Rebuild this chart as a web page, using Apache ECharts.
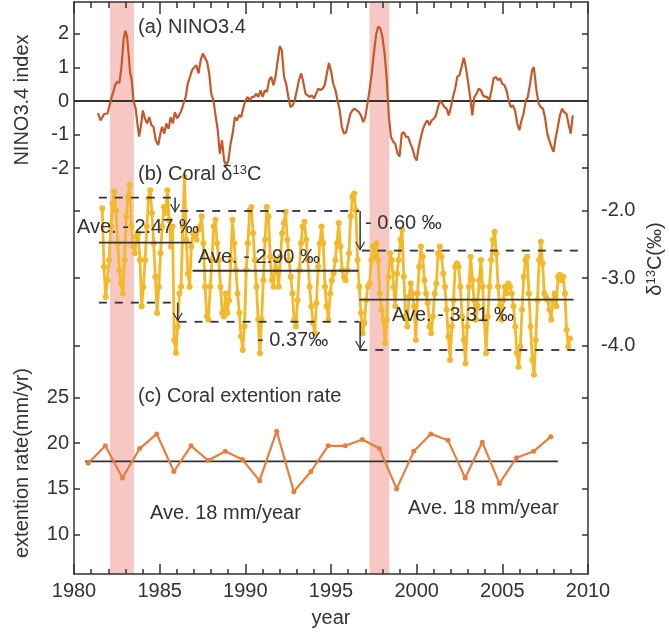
<!DOCTYPE html>
<html><head><meta charset="utf-8">
<script src="https://cdn.jsdelivr.net/npm/echarts@6/dist/echarts.min.js"></script>
<style>html,body{margin:0;padding:0;background:#fff}#c{width:669px;height:635px}</style>
</head><body><div id="c"></div>
<script>
// ---------- data ----------
const ninoYears = [
1981.40,1981.55,1981.77,1981.95,1982.10,1982.20,1982.30,1982.40,1982.52,1982.65,
1982.77,1982.90,1983.00,1983.10,1983.20,1983.27,1983.37,1983.47,1983.60,1983.70,
1983.80,1983.90,1984.02,1984.14,1984.27,1984.39,1984.52,1984.64,1984.77,1984.92,
1985.04,1985.14,1985.27,1985.39,1985.52,1985.64,1985.77,1985.89,1986.02,1986.14,
1986.27,1986.39,1986.52,1986.64,1986.77,1986.89,1987.02,1987.14,1987.27,1987.39,
1987.52,1987.62,1987.77,1987.89,1988.01,1988.14,1988.26,1988.39,1988.51,1988.64,
1988.76,1988.89,1989.01,1989.14,1989.26,1989.39,1989.51,1989.64,1989.76,1989.89,
1990.01,1990.14,1990.26,1990.39,1990.51,1990.64,1990.76,1990.89,1991.01,1991.14,
1991.26,1991.39,1991.51,1991.64,1991.76,1991.89,1992.01,1992.13,1992.26,1992.38,
1992.51,1992.63,1992.76,1992.88,1993.01,1993.13,1993.26,1993.38,1993.51,1993.63,
1993.76,1993.88,1994.01,1994.13,1994.26,1994.38,1994.51,1994.63,1994.76,1994.88,
1995.01,1995.13,1995.26,1995.38,1995.51,1995.63,1995.76,1995.88,1996.00,1996.13,
1996.25,1996.38,1996.50,1996.63,1996.75,1996.88,1997.00,1997.13,1997.25,1997.38,
1997.50,1997.63,1997.75,1997.88,1998.00,1998.13,1998.25,1998.38,1998.50,1998.63,
1998.75,1998.88,1999.00,1999.13,1999.25,1999.38,1999.50,1999.63,1999.75,1999.88,
2000.00,2000.12,2000.25,2000.37,2000.50,2000.62,2000.75,2000.87,2001.00,2001.12,
2001.25,2001.37,2001.50,2001.62,2001.75,2001.87,2002.00,2002.12,2002.25,2002.37,
2002.50,2002.62,2002.75,2002.87,2003.00,2003.12,2003.25,2003.37,2003.50,2003.62,
2003.75,2003.87,2004.00,2004.12,2004.24,2004.37,2004.49,2004.62,2004.74,2004.87,
2004.99,2005.12,2005.24,2005.37,2005.49,2005.62,2005.74,2005.87,2005.99,2006.12,
2006.24,2006.37,2006.49,2006.62,2006.74,2006.84,2006.99,2007.12,2007.24,2007.37,
2007.49,2007.62,2007.74,2007.87,2007.99,2008.12,2008.24,2008.36,2008.49,2008.61,
2008.74,2008.86,2008.99,2009.11];
const ninoValues = [
-0.36,-0.58,-0.38,-0.38,-0.08,0.12,0.27,0.47,0.57,0.54,
1.01,1.86,2.09,1.91,1.31,0.87,0.62,0.02,-0.23,-0.67,
-1.06,-0.77,-0.28,-0.52,-0.67,-0.48,-0.72,-0.77,-1.16,-1.31,
-0.97,-0.77,-0.97,-0.67,-0.83,-0.48,-0.67,-0.33,-0.52,-0.42,
-0.28,-0.08,0.12,0.52,0.72,0.92,1.01,1.06,0.82,1.21,
1.41,1.43,1.16,0.82,0.22,0.02,-0.42,-0.87,-1.57,-1.17,
-1.77,-1.92,-1.77,-1.27,-0.97,-0.48,-0.58,-0.42,-0.48,-0.18,
0.02,0.12,0.02,0.12,0.12,0.22,0.12,0.32,0.12,0.32,
0.27,0.62,0.72,0.47,0.72,1.21,1.63,1.51,0.72,0.52,
0.12,-0.18,-0.13,0.02,0.32,0.62,0.82,0.57,0.22,0.17,
0.12,0.17,0.07,0.22,0.37,0.32,0.37,0.47,0.82,1.13,
0.87,0.52,0.32,0.02,-0.28,-0.77,-0.97,-0.93,-0.67,-0.38,
-0.28,-0.23,-0.28,-0.33,-0.43,-0.63,-0.48,-0.08,0.32,0.82,
1.41,1.97,2.21,2.16,1.91,1.41,0.67,-0.48,-1.07,-1.21,
-1.27,-1.56,-1.66,-0.97,-0.93,-1.07,-1.07,-1.26,-1.41,-1.66,
-1.77,-1.37,-1.07,-0.83,-0.67,-0.58,-0.72,-0.58,-0.53,-0.43,
-0.18,0.02,-0.08,-0.18,-0.23,-0.43,-0.18,0.12,0.37,0.72,
0.77,1.01,1.29,1.01,0.57,0.12,-0.43,0.12,0.22,0.37,
0.32,0.17,0.12,0.12,0.02,0.32,0.67,0.72,0.62,0.67,
0.52,0.47,0.32,0.02,-0.18,-0.13,-0.28,-0.67,-0.87,-0.58,
-0.38,0.02,0.12,0.52,0.92,1.01,0.32,-0.08,-0.18,-0.23,
-0.48,-0.97,-1.17,-1.37,-1.51,-1.07,-0.77,-0.43,-0.23,-0.33,
-0.38,-0.67,-0.97,-0.43];

const coralYears = [
1981.65,1981.75,1981.85,1981.95,
1982.05,1982.15,1982.25,1982.35,1982.45,1982.55,1982.65,1982.75,1982.85,1982.95,
1983.05,1983.15,1983.25,1983.35,1983.45,1983.55,1983.65,1983.75,1983.85,1983.95,
1984.05,1984.15,1984.25,1984.35,1984.45,1984.55,1984.65,1984.75,1984.85,1984.95,
1985.05,1985.15,1985.25,1985.35,1985.45,1985.55,1985.65,1985.75,1985.85,1985.95,
1986.05,1986.15,1986.25,1986.35,1986.45,1986.55,1986.65,1986.75,1986.85,1986.95,
1987.05,1987.15,1987.25,1987.35,1987.45,1987.55,1987.65,1987.75,1987.85,1987.95,
1988.05,1988.15,1988.25,1988.35,1988.45,1988.55,1988.65,1988.75,1988.85,1988.95,
1989.05,1989.15,1989.25,1989.35,1989.45,1989.55,1989.65,1989.75,1989.85,1989.95,
1990.05,1990.15,1990.25,1990.35,1990.45,1990.55,1990.65,1990.75,1990.85,1990.95,
1991.05,1991.15,1991.25,1991.35,1991.45,1991.55,1991.65,1991.75,1991.85,1991.95,
1992.05,1992.15,1992.25,1992.35,1992.45,1992.55,1992.65,1992.75,1992.85,1992.95,
1993.05,1993.15,1993.25,1993.35,1993.45,1993.55,1993.65,1993.75,1993.85,1993.95,
1994.05,1994.15,1994.25,1994.35,1994.45,1994.55,1994.65,1994.75,1994.85,1994.95,
1995.05,1995.15,1995.25,1995.35,1995.45,1995.55,1995.65,1995.75,1995.85,1995.95,
1996.05,1996.15,1996.25,1996.35,1996.45,1996.55,1996.65,1996.75,1996.85,1996.95,
1997.05,1997.15,1997.25,1997.35,1997.45,1997.55,1997.65,1997.75,1997.85,1997.95,
1998.05,1998.15,1998.25,1998.35,1998.45,1998.55,1998.65,1998.75,1998.85,1998.95,
1999.05,1999.15,1999.25,1999.35,1999.45,1999.55,1999.65,1999.75,1999.85,1999.95,
2000.05,2000.15,2000.25,2000.35,2000.45,2000.55,2000.65,2000.75,2000.85,2000.95,
2001.05,2001.15,2001.25,2001.35,2001.45,2001.55,2001.65,2001.75,2001.85,2001.95,
2002.05,2002.15,2002.25,2002.35,2002.45,2002.55,2002.65,2002.75,2002.85,2002.95,
2003.05,2003.15,2003.25,2003.35,2003.45,2003.55,2003.65,2003.75,2003.85,2003.95,
2004.05,2004.15,2004.25,2004.35,2004.45,2004.55,2004.65,2004.75,2004.85,2004.95,
2005.05,2005.15,2005.25,2005.35,2005.45,2005.55,2005.65,2005.75,2005.85,2005.95,
2006.05,2006.15,2006.25,2006.35,2006.45,2006.55,2006.65,2006.75,2006.85,2006.95,
2007.05,2007.15,2007.25,2007.35,2007.45,2007.55,2007.65,2007.75,2007.85,2007.95,
2008.05,2008.15,2008.25,2008.35,2008.45,2008.55,2008.65,2008.75,2008.85,2008.95];
const coralD13C = [
-1.96,-2.83,-3.28,-3.03,-2.73,-2.23,-1.89,-1.71,-1.99,-2.48,
-2.88,-3.08,-3.23,-2.73,-2.08,-1.79,-1.61,-2.23,-2.53,-2.63,
-2.38,-2.33,-2.73,-3.42,-3.13,-2.73,-2.23,-1.81,-1.69,-2.03,
-2.48,-2.98,-3.52,-3.13,-2.63,-2.23,-1.94,-2.03,-1.69,-2.13,
-2.53,-2.23,-3.92,-4.11,-3.72,-3.23,-3.13,-2.23,-1.49,-2.43,
-2.93,-3.13,-2.53,-2.33,-2.38,-2.43,-2.28,-2.23,-2.08,-2.48,
-3.13,-3.57,-3.62,-3.13,-2.73,-2.23,-2.13,-2.48,-2.73,-3.13,
-3.52,-3.57,-3.23,-3.52,-3.33,-2.73,-2.13,-2.48,-2.88,-3.23,
-3.52,-3.87,-4.07,-3.72,-2.88,-2.48,-1.99,-1.94,-2.33,-2.73,
-3.13,-3.62,-4.12,-3.62,-3.03,-2.43,-1.94,-2.08,-2.68,-3.03,
-3.13,-2.73,-2.88,-3.13,-2.68,-2.33,-2.18,-2.01,-2.43,-2.73,
-2.98,-3.23,-3.62,-3.72,-3.33,-2.88,-2.48,-2.23,-2.16,-2.43,
-2.73,-3.13,-3.42,-3.67,-3.82,-3.37,-2.83,-2.48,-2.23,-2.48,
-3.13,-3.42,-3.62,-3.23,-3.03,-2.93,-2.73,-2.48,-2.18,-2.53,
-2.88,-2.98,-3.03,-2.88,-2.63,-2.08,-1.79,-1.74,-1.99,-2.73,
-3.13,-3.52,-3.82,-3.67,-3.33,-3.13,-3.08,-2.73,-2.53,-2.68,
-2.48,-2.73,-3.23,-3.47,-3.62,-3.97,-3.62,-2.98,-2.63,-2.73,
-3.13,-3.42,-2.93,-2.73,-2.43,-2.28,-2.98,-3.57,-3.72,-3.28,
-3.08,-3.23,-3.42,-3.92,-3.23,-2.83,-2.53,-2.68,-3.03,-3.23,
-3.37,-3.72,-3.82,-3.57,-3.23,-3.08,-2.63,-2.53,-2.68,-2.93,
-3.13,-3.47,-3.87,-4.22,-3.72,-3.33,-2.83,-2.78,-2.83,-3.13,
-3.57,-3.92,-4.27,-3.72,-3.13,-2.68,-3.03,-3.33,-3.62,-3.42,
-3.03,-2.73,-3.13,-3.62,-4.12,-3.57,-3.13,-2.73,-2.43,-2.31,
-2.63,-3.13,-3.42,-3.62,-3.33,-3.13,-3.23,-3.08,-3.13,-3.23,
-3.42,-3.72,-4.12,-4.32,-4.02,-3.47,-2.98,-2.73,-2.68,-3.23,
-3.72,-4.22,-4.44,-3.92,-3.33,-2.73,-2.46,-2.78,-3.23,-3.28,
-3.33,-3.47,-3.62,-3.33,-3.23,-3.42,-2.98,-2.95,-3.03,-2.98,
-3.23,-3.77,-4.02,-3.90];

const extYears = [1980.83,1981.83,1982.83,1983.83,1984.83,1985.83,1986.83,1987.83,1988.83,1989.83,
1990.83,1991.83,1992.83,1993.83,1994.83,1995.83,1996.83,1997.83,1998.83,1999.83,
2000.83,2001.83,2002.83,2003.83,2004.83,2005.83,2006.83,2007.83];
const extRates = [17.8,19.7,16.2,19.4,21.0,16.9,19.7,18.1,19.1,18.2,
15.9,21.3,14.7,16.9,19.7,19.7,20.4,19.4,15.0,19.1,
21.0,20.3,16.2,20.1,15.6,18.4,19.1,20.7];
const extMean = 18;
const extMeanSpan = [1980.65, 2008.24];

const elNinoBands = [[1982.1, 1983.5], [1997.25, 1998.4]];
const yearTicks = [1980, 1985, 1990, 1995, 2000, 2005, 2010];
const ninoTicks = [-2, -1, 0, 1, 2];
const d13cTicks = [-4, -3, -2];
const extTicks = [10, 15, 20, 25];

// period averages (solid) and envelopes (dashed) of coral d13C
const periodMeans = [
  {from: 1981.45, to: 1986.86, value: -2.47},
  {from: 1986.92, to: 1996.60, value: -2.89},
  {from: 1996.65, to: 2009.16, value: -3.32}];
const periodEnvelopes = [
  {from: 1981.45, to: 1985.80, value: -1.80},
  {from: 1986.20, to: 1996.65, value: -2.00},
  {from: 1996.80, to: 2009.49, value: -2.59},
  {from: 1981.45, to: 1985.90, value: -3.365},
  {from: 1986.10, to: 1996.65, value: -3.65},
  {from: 1996.65, to: 2009.25, value: -4.07}];
const shiftArrows = [
  {year: 1985.90, from: -1.80, to: -2.02},
  {year: 1986.05, from: -3.365, to: -3.64},
  {year: 1996.70, from: -2.00, to: -2.58},
  {year: 1996.70, from: -3.65, to: -4.06}];

// ---------- chart ----------
const FONT = '"Liberation Sans", Arial, Helvetica, sans-serif';
const INK = '#333';
const AX = {color: INK, width: 1.5};
const chart = echarts.init(document.getElementById('c'));

function yAxisDef(side, min, max, ticks, showLabels, showLine, fmt) {
  return {
    type: 'value', position: side, min: min, max: max, gridIndex: 0,
    axisLine: {show: showLine, onZero: false, lineStyle: AX},
    axisTick: {show: true, inside: true, length: 6, customValues: ticks, lineStyle: AX},
    axisLabel: {show: showLabels, customValues: ticks, fontSize: 20, color: INK,
      fontFamily: FONT, margin: side === 'left' ? 5 : 13, formatter: fmt || (v => String(v))},
    splitLine: {show: false}, z: 6
  };
}
const NINO_R = [-14.077, 2.946], D13_R = [-7.406, 1.112], EXT_R = [5.71, 68.15];

const arrowHead = 'path://M0,0 L6,10 L12,0 L10.8,-0.8 L6,7.6 L1.2,-0.8 Z';

const series = [];
// El Nino shading
series.push({type: 'line', xAxisIndex: 0, yAxisIndex: 0, data: [[1980, 0]], symbol: 'none',
  lineStyle: {opacity: 0}, silent: true, z: 1,
  markArea: {silent: true, itemStyle: {color: '#f7c7c4'},
    data: elNinoBands.map(b => [{xAxis: b[0]}, {xAxis: b[1]}])}});
// zero line
series.push({type: 'line', xAxisIndex: 0, yAxisIndex: 0, data: [[1980, 0], [2010, 0]],
  symbol: 'none', lineStyle: {color: INK, width: 1.8}, silent: true, z: 3});
// NINO3.4
series.push({type: 'line', xAxisIndex: 0, yAxisIndex: 0,
  data: ninoYears.map((y, i) => [y, ninoValues[i]]),
  symbol: 'none', lineStyle: {color: '#c45a2a', width: 2.2}, z: 4});
// coral d13C
series.push({type: 'line', xAxisIndex: 0, yAxisIndex: 1,
  data: coralYears.map((y, i) => [y, coralD13C[i]]),
  symbol: 'circle', symbolSize: 6, showSymbol: true,
  itemStyle: {color: '#f4b92a'}, lineStyle: {color: '#f4b92a', width: 2.8}, z: 4});
periodMeans.forEach(s => series.push({type: 'line', xAxisIndex: 0, yAxisIndex: 1,
  data: [[s.from, s.value], [s.to, s.value]], symbol: 'none', silent: true,
  lineStyle: {color: INK, width: 1.8}, z: 5}));
periodEnvelopes.forEach(s => series.push({type: 'line', xAxisIndex: 0, yAxisIndex: 1,
  data: [[s.from, s.value], [s.to, s.value]], symbol: 'none', silent: true,
  lineStyle: {color: INK, width: 1.8, type: [8, 8]}, z: 5}));
shiftArrows.forEach(a => series.push({type: 'line', xAxisIndex: 0, yAxisIndex: 1,
  data: [{value: [a.year, a.from], symbol: 'none'},
         {value: [a.year, a.to], symbol: arrowHead, symbolSize: [10, 9], symbolOffset: [0, -4]}],
  showSymbol: true, silent: true, itemStyle: {color: INK},
  lineStyle: {color: INK, width: 1.5}, z: 5}));
// extension rate
series.push({type: 'line', xAxisIndex: 0, yAxisIndex: 2,
  data: extYears.map((y, i) => [y, extRates[i]]),
  symbol: 'circle', symbolSize: 5, itemStyle: {color: '#e97d3c'},
  lineStyle: {color: '#e97d3c', width: 2.2}, z: 4});
series.push({type: 'line', xAxisIndex: 0, yAxisIndex: 2,
  data: [[extMeanSpan[0], extMean], [extMeanSpan[1], extMean]], symbol: 'none', silent: true,
  lineStyle: {color: INK, width: 1.8}, z: 3});

function txt(text, x, y, extra) {
  return {type: 'text', x: x, y: y, z: 30, silent: true,
    style: Object.assign({text: text, fontSize: 20, fontFamily: FONT, fill: INK,
      align: 'left', verticalAlign: 'middle'}, extra || {})};
}
const sup = {s: {fontSize: 13, fontFamily: FONT, fill: INK, verticalAlign: 'top', padding: [0, 0, 8, 0]}};

const graphic = [
  txt('(a) NINO3.4', 138, 27),
  txt('(b) Coral δ{s|13}C', 138, 174, {rich: sup}),
  txt('(c) Coral extention rate', 138, 396),
  txt('Ave. 18 mm/year', 150, 513),
  txt('Ave. 18 mm/year', 408, 508),
  txt('Ave. - 2.47 ‰', 77, 227),
  txt('Ave. - 2.90 ‰', 198, 257),
  txt('- 0.60 ‰', 365, 223),
  txt('- 0.37‰', 257, 340),
  txt('Ave. - 3.31 ‰', 392, 315),
  Object.assign(txt('NINO3.4 index', 22, 100, {align: 'center'}), {rotation: Math.PI / 2}),
  Object.assign(txt('extention rate(mm/yr)', 22, 463, {align: 'center'}), {rotation: Math.PI / 2}),
  Object.assign(txt('δ{s|13}C(‰)', 655, 259, {align: 'center', rich: sup}), {rotation: Math.PI / 2}),
  txt('year', 331, 618, {align: 'center'})
];

const xBase = {type: 'value', min: 1980, max: 2010, interval: 5, gridIndex: 0,
  splitLine: {show: false}, minorSplitLine: {show: false}, z: 6};

chart.setOption({
  animation: false,
  textStyle: {fontFamily: FONT},
  grid: {left: 74, right: 81, top: 2, bottom: 61},
  xAxis: [
    Object.assign({}, xBase, {position: 'bottom',
      axisLine: {show: true, onZero: false, lineStyle: AX},
      axisTick: {inside: true, length: 10, customValues: yearTicks, lineStyle: AX},
      minorTick: {show: true, splitNumber: 5, length: 5, lineStyle: AX},
      axisLabel: {fontSize: 20, color: INK, fontFamily: FONT, margin: 7, customValues: yearTicks,
        formatter: v => String(v)}}),
    Object.assign({}, xBase, {position: 'top',
      axisLine: {show: true, onZero: false, lineStyle: AX},
      axisTick: {inside: true, length: 12, lineStyle: AX},
      minorTick: {show: true, splitNumber: 5, length: 6, lineStyle: AX},
      axisLabel: {show: false}})
  ],
  yAxis: [
    yAxisDef('left', NINO_R[0], NINO_R[1], ninoTicks, true, true),
    yAxisDef('left', D13_R[0], D13_R[1], d13cTicks, false, false),
    yAxisDef('left', EXT_R[0], EXT_R[1], extTicks, true, false),
    yAxisDef('right', NINO_R[0], NINO_R[1], ninoTicks, false, true),
    yAxisDef('right', D13_R[0], D13_R[1], d13cTicks, true, false, v => v.toFixed(1)),
    yAxisDef('right', EXT_R[0], EXT_R[1], extTicks, false, false)
  ],
  series: series,
  graphic: graphic
});
</script></body></html>
